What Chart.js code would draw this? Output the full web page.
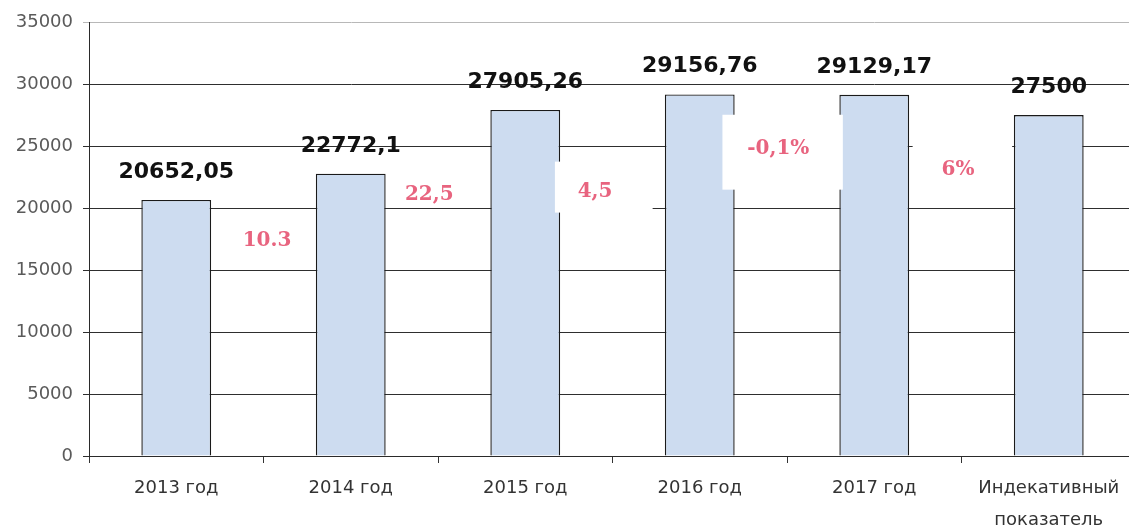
<!DOCTYPE html>
<html><head><meta charset="utf-8">
<script src="https://cdn.jsdelivr.net/npm/chart.js@4"></script>
<style>html,body{margin:0;padding:0;background:#fff;overflow:hidden}#wrap{width:1129px;height:530px;overflow:hidden}canvas{display:block}</style>
</head><body><div id="wrap"><canvas id="c" width="1136" height="530"></canvas></div>
<script>
const categories = ['2013 год', '2014 год', '2015 год', '2016 год', '2017 год', ['Индекативный', 'показатель']];
const values = [20652.05, 22772.1, 27905.26, 29156.76, 29129.17, 27500];
const yTicks = [0, 5000, 10000, 15000, 20000, 25000, 30000, 35000];
const growthLabels = ['10.3', '22,5', '4,5', '-0,1%', '6%'];

const annotationPlugin = {
  id: 'notes',
  afterDatasetsDraw(chart, args, opts) {
    const ctx = chart.ctx, xs = chart.scales.x, ys = chart.scales.y;
    ctx.save();
    ctx.fillStyle = '#ffffff';
    opts.boxes.forEach(b => {
      const x1 = xs.getPixelForValue(b.x1), x2 = xs.getPixelForValue(b.x2);
      const y1 = ys.getPixelForValue(b.y1), y2 = ys.getPixelForValue(b.y2);
      ctx.fillRect(x1, y1, x2 - x1, y2 - y1);
    });
    ctx.fillStyle = '#e8647f';
    ctx.font = 'bold 20px "DejaVu Serif"';
    ctx.textAlign = 'center';
    ctx.textBaseline = 'middle';
    growthLabels.forEach((t, i) => {
      const p = opts.positions[i];
      ctx.fillText(t, xs.getPixelForValue(p.x), ys.getPixelForValue(p.y));
    });
    ctx.fillStyle = '#111111';
    ctx.font = 'bold 22px "DejaVu Sans"';
    ctx.textBaseline = 'alphabetic';
    const meta = chart.getDatasetMeta(0);
    meta.data.forEach((bar, i) => {
      ctx.fillText(String(values[i]).replace('.', ','), bar.x, bar.y - 22);
    });
    ctx.restore();
  }
};

new Chart(document.getElementById('c'), {
  type: 'bar',
  data: {
    labels: categories,
    datasets: [{
      data: values,
      backgroundColor: '#cddcf0',
      borderColor: '#1a1a1a',
      borderWidth: 1.4,
      borderSkipped: 'start',
      barPercentage: 0.4,
      categoryPercentage: 1
    }]
  },
  plugins: [annotationPlugin],
  options: {
    responsive: false,
    animation: false,
    devicePixelRatio: 1,
    layout: { padding: { top: 22, right: 0, left: 0, bottom: 0 } },
    plugins: {
      legend: { display: false },
      tooltip: { enabled: false },
      notes: {
        positions: [
          { x: 0.52, y: 17380 }, { x: 1.45, y: 21080 }, { x: 2.40, y: 21330 },
          { x: 3.45, y: 24780 }, { x: 4.48, y: 23090 }
        ],
        boxes: [
          { x1: 2.17, x2: 2.73, y1: 23740, y2: 19630 },
          { x1: 3.13, x2: 3.82, y1: 27520, y2: 21480 },
          { x1: 4.22, x2: 4.79, y1: 27110, y2: 21080 }
        ]
      }
    },
    scales: {
      x: {
        offset: true,
        grid: { display: true, offset: true, drawOnChartArea: false, drawTicks: true, tickLength: 7, color: '#333' },
        border: { display: true, color: '#2a2a2a', width: 1 },
        ticks: { color: '#333', font: { family: 'DejaVu Sans', size: 18, lineHeight: 1.8 }, padding: 9, maxRotation: 0, autoSkip: false },
        afterFit(scale) { scale.height = 74; }
      },
      y: {
        min: 0, max: 35000,
        afterBuildTicks(scale) { scale.ticks = yTicks.map(v => ({ value: v })); },
        grid: {
          color: ctx => (ctx.tick && ctx.tick.value === 35000) ? '#b8b8b8' : '#2e2e2e',
          tickLength: 6, drawTicks: true, lineWidth: 1
        },
        border: { display: true, color: '#2a2a2a', width: 1 },
        ticks: { color: '#5a5a5a', font: { family: 'DejaVu Sans', size: 18 }, padding: 10, callback: v => String(v) },
        afterFit(scale) { scale.width = 89; }
      }
    }
  }
});
</script>
</body></html>
